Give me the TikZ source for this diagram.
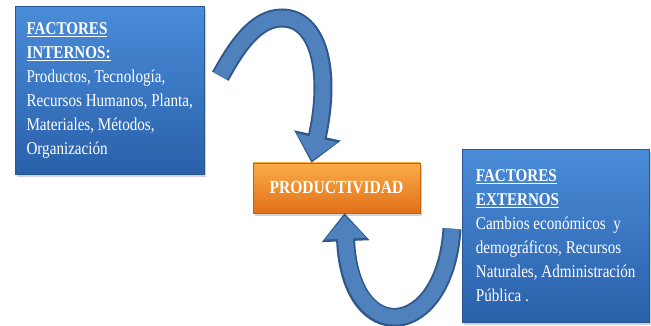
\documentclass[tikz,border=0pt]{standalone}
\usepackage{fontspec}
\setmainfont{Liberation Serif}[FakeStretch=0.84]
\usepackage{tikz}
\usetikzlibrary{arrows.meta,shadows}
\definecolor{boxtop}{RGB}{74,140,216}
\definecolor{boxbottom}{RGB}{42,96,170}
\definecolor{boxedge}{RGB}{40,86,148}
\definecolor{prodtop}{RGB}{250,172,72}
\definecolor{prodbottom}{RGB}{226,112,24}
\definecolor{prodedge}{RGB}{196,96,20}
\definecolor{arrowfill}{RGB}{79,129,189}
\definecolor{arrowedge}{RGB}{48,88,140}
\tikzset{
    factorblock/.style={draw=boxedge, top color=boxtop, bottom color=boxbottom, align=left, text=white, font=\fontsize{18}{24}\selectfont, anchor=north west, drop shadow={shadow xshift=2pt, shadow yshift=-3pt, opacity=.35}},
    prodblock/.style={draw=prodedge, top color=prodtop, bottom color=prodbottom, align=center, text=white, font=\fontsize{18.5}{24}\selectfont\bfseries, drop shadow={shadow xshift=2pt, shadow yshift=-3pt, opacity=.35}},
    cycleedge/.style={line width=19pt, arrowedge, -{Triangle[length=28pt, width=46pt]}},
    cyclebody/.style={line width=15pt, arrowfill, shorten >=2.5pt, -{Triangle[length=23pt, width=40pt]}}
}
\begin{document}
\begin{tikzpicture}[x=1pt, y=-1pt]
    \useasboundingbox (0,0) rectangle (651,326);
    \node[factorblock, minimum width=189pt, minimum height=168pt] (interno) at (15,6) {\textbf{\underline{FACTORES}}\\\textbf{\underline{INTERNOS:}}\\Productos, Tecnología,\\Recursos Humanos, Planta,\\Materiales, Métodos,\\Organización};
    \node[factorblock, minimum width=187pt, minimum height=173pt] (externo) at (462,149) {\textbf{\underline{FACTORES}}\\\textbf{\underline{EXTERNOS}}\\Cambios económicos~ y\\demográficos, Recursos\\Naturales, Administración\\Pública .};
    \node[prodblock, minimum width=167pt, minimum height=50pt] (prod) at (336.5,188) {PRODUCTIVIDAD};
    % arrow from the internal factors down onto the centre box
    \draw[cycleedge] ([xshift=16pt,yshift=14pt]interno.east) .. controls (236,48) and (255,18) .. (282,18) .. controls (318,18) and (332,70) .. ([xshift=-25pt]prod.north);
    \draw[cyclebody] ([xshift=16pt,yshift=14pt]interno.east) .. controls (236,48) and (255,18) .. (282,18) .. controls (318,18) and (332,70) .. ([xshift=-25pt]prod.north);
    % arrow from the external factors back up
    \draw[cycleedge] ([xshift=-10pt,yshift=7pt]externo.west) .. controls (445,340) and (350,350) .. ([xshift=8pt]prod.south);
    \draw[cyclebody] ([xshift=-10pt,yshift=7pt]externo.west) .. controls (445,340) and (350,350) .. ([xshift=8pt]prod.south);
\end{tikzpicture}
\end{document}
